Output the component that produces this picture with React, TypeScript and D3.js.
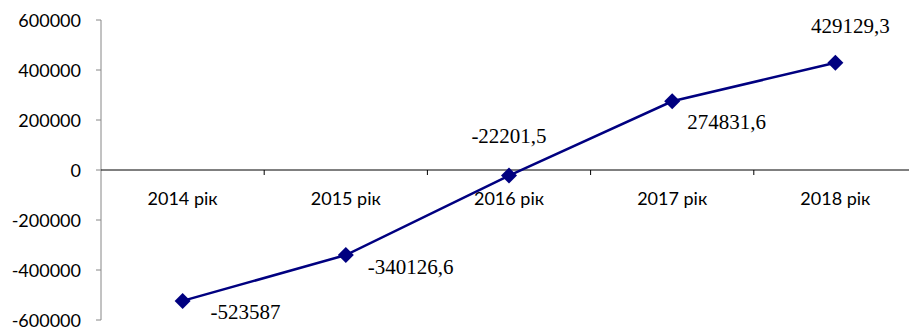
import React from "react";
import * as d3 from "d3";

const categories = ["2014 рік", "2015 рік", "2016 рік", "2017 рік", "2018 рік"];
const values = [-523587, -340126.6, -22201.5, 274831.6, 429129.3];
const valueLabels = ["-523587", "-340126,6", "-22201,5", "274831,6", "429129,3"];
const yTicks = [600000, 400000, 200000, 0, -200000, -400000, -600000];
// label placement: [dx, dy, anchor]
const labelOffsets: [number, number, string][] = [
  [28, 11, "start"],
  [22, 12, "start"],
  [0, -40, "middle"],
  [15, 21, "start"],
  [15, -37, "middle"],
];

export default function App() {
  const W = 909, H = 329;
  const left = 101, right = 917, top = 20, bottom = 320;
  const x = d3.scaleBand<string>().domain(categories).range([left, right]).padding(0);
  const y = d3.scaleLinear().domain([-600000, 600000]).range([bottom, top]);
  const cx = (c: string) => (x(c) as number) + x.bandwidth() / 2;
  const pts: [number, number][] = values.map((v, i) => [cx(categories[i]), y(v)]);
  const line = d3.line()(pts) as string;
  const axisFont = "Lato, 'DejaVu Sans', sans-serif";
  const y0 = y(0);
  return (
    <svg width={W} height={H} style={{ position: "absolute", left: 0, top: 0, background: "#fff" }}>
      {/* y axis */}
      <line x1={left} x2={left} y1={top} y2={bottom} stroke="#868686" strokeWidth={1} />
      {yTicks.map((t) => (
        <g key={t}>
          <line x1={left - 5} x2={left} y1={y(t)} y2={y(t)} stroke="#868686" />
          <text x={81} y={y(t)} textAnchor="end" dominantBaseline="central" fontFamily={axisFont} fontSize={18} fill="#000">
            {t}
          </text>
        </g>
      ))}
      {/* x axis */}
      <line x1={left} x2={right} y1={y0} y2={y0} stroke="#000" strokeWidth={1} />
      {categories.map((c, i) => (
        <g key={c}>
          {i > 0 && <line x1={x(c) as number} x2={x(c) as number} y1={y0} y2={y0 + 5} stroke="#000" />}
          <text x={cx(c)} y={y0 + 28} textAnchor="middle" dominantBaseline="central" fontFamily={axisFont} fontSize={18} fill="#000">
            {c}
          </text>
        </g>
      ))}
      <path d={line} fill="none" stroke="#000080" strokeWidth={2.5} />
      {pts.map(([px, py], i) => (
        <path key={i} d={`M${px},${py - 8}L${px + 8},${py}L${px},${py + 8}L${px - 8},${py}Z`} fill="#000080" />
      ))}
      {pts.map(([px, py], i) => (
        <text
          key={"l" + i}
          x={px + labelOffsets[i][0]}
          y={py + labelOffsets[i][1]}
          textAnchor={labelOffsets[i][2] as any}
          dominantBaseline="central"
          fontFamily="'Liberation Serif', 'Times New Roman', serif"
          fontSize={21}
          fill="#000"
        >
          {valueLabels[i]}
        </text>
      ))}
    </svg>
  );
}
